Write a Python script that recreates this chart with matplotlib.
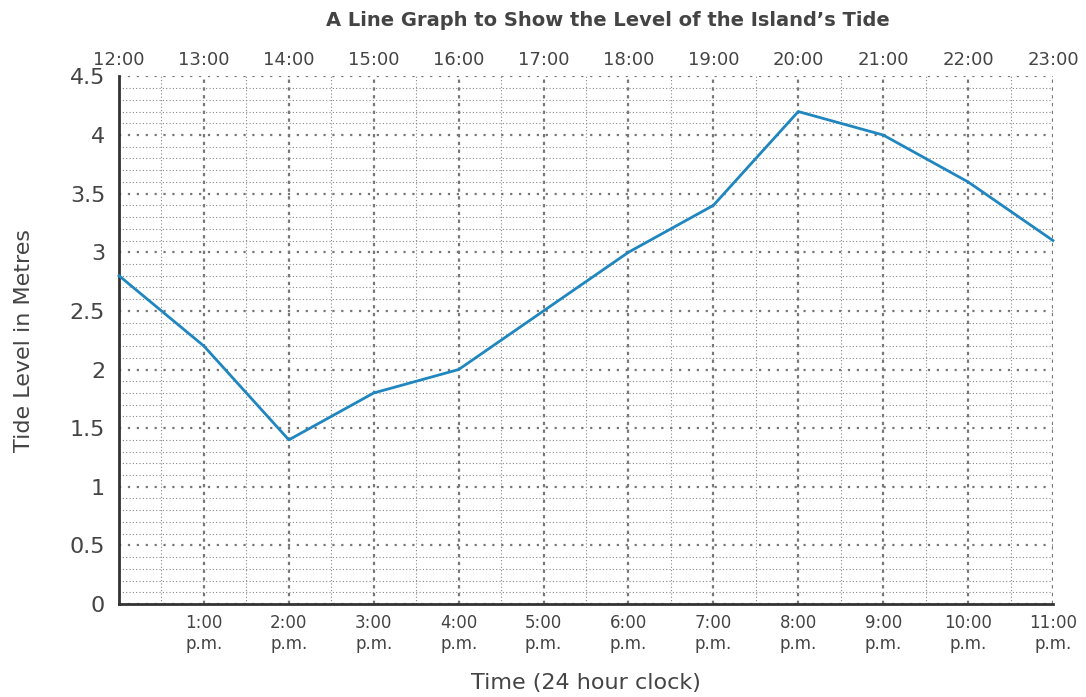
import matplotlib
matplotlib.use("Agg")
import matplotlib.pyplot as plt
from matplotlib.ticker import MultipleLocator, FixedLocator

hours = [12, 13, 14, 15, 16, 17, 18, 19, 20, 21, 22, 23]
tide = [2.8, 2.2, 1.4, 1.8, 2.0, 2.5, 3.0, 3.4, 4.2, 4.0, 3.6, 3.1]
top_labels = ["12:00", "13:00", "14:00", "15:00", "16:00", "17:00",
              "18:00", "19:00", "20:00", "21:00", "22:00", "23:00"]
bottom_labels = ["", "1:00\np.m.", "2:00\np.m.", "3:00\np.m.", "4:00\np.m.",
                 "5:00\np.m.", "6:00\np.m.", "7:00\np.m.", "8:00\np.m.",
                 "9:00\np.m.", "10:00\np.m.", "11:00\np.m."]
y_ticks = [0, 0.5, 1, 1.5, 2, 2.5, 3, 3.5, 4, 4.5]
y_labels = ["0", "0.5", "1", "1.5", "2", "2.5", "3", "3.5", "4", "4.5"]

plt.rcParams['font.family'] = ['DejaVu Sans']
txt = "#444444"

fig = plt.figure(figsize=(10.86, 6.97), dpi=100)
ax = fig.add_axes([0.1096, 0.1334, 0.86, 0.757])

ax.set_xlim(12, 23)
ax.set_ylim(0, 4.5)

ax.xaxis.set_major_locator(FixedLocator(hours))
ax.xaxis.set_minor_locator(MultipleLocator(0.5))
ax.yaxis.set_major_locator(FixedLocator(y_ticks))
ax.yaxis.set_minor_locator(MultipleLocator(0.1))

ax.grid(which='minor', axis='both', color='#888888', linestyle=(0, (1, 2)), linewidth=0.8)
ax.grid(which='major', axis='y', color='#777777', linestyle=(0, (1, 3)), linewidth=1.6)
ax.grid(which='major', axis='x', color='#777777', linestyle=(0, (1.5, 2)), linewidth=1.6)
ax.set_axisbelow(True)

ax.plot(hours, tide, color='#1f86c0', linewidth=2.0, zorder=3, clip_on=False)

ax.set_xticks(hours)
ax.set_xticklabels(bottom_labels, fontsize=12, color=txt, linespacing=1.2)
ax.set_yticks(y_ticks)
ax.set_yticklabels(y_labels, fontsize=16, color=txt)
ax.tick_params(which='both', length=0)
ax.tick_params(axis='x', pad=7)
ax.tick_params(axis='y', pad=10)

secax = ax.secondary_xaxis('top')
secax.set_xticks(hours)
secax.set_xticklabels(top_labels, fontsize=13, color=txt)
secax.tick_params(length=0, pad=5)
secax.spines['top'].set_visible(False)

for s in ['top', 'right']:
    ax.spines[s].set_visible(False)
for s in ['left', 'bottom']:
    ax.spines[s].set_color('#333333')
    ax.spines[s].set_linewidth(2)

ax.set_ylabel("Tide Level in Metres", fontsize=16, color=txt, labelpad=26)
ax.set_xlabel("Time (24 hour clock)", fontsize=16, color=txt, labelpad=15)
fig.text(0.56, 0.97, "A Line Graph to Show the Level of the Island\u2019s Tide",
         ha='center', va='center', fontsize=14, fontweight='semibold', color=txt)

fig.savefig("out.png", dpi=100)
